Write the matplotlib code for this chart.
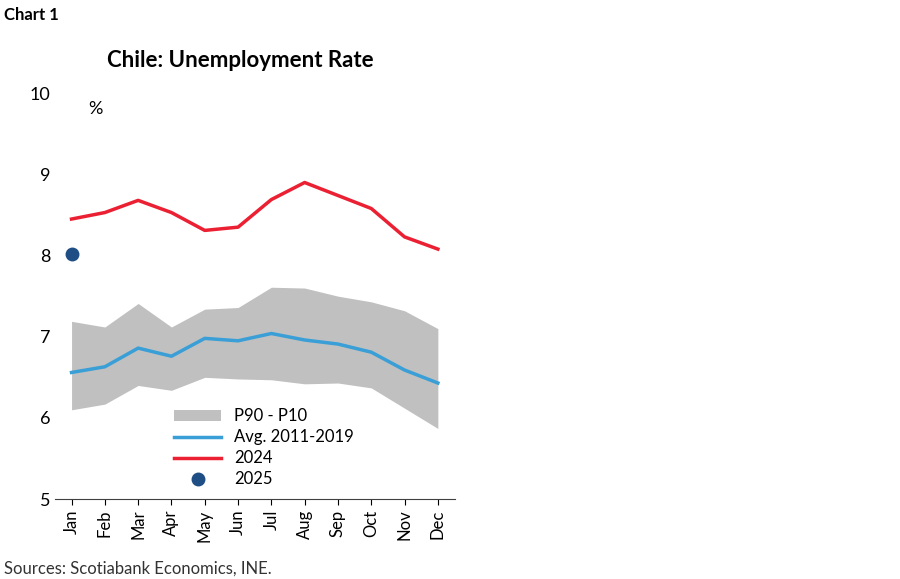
import matplotlib.pyplot as plt

months = ['Jan', 'Feb', 'Mar', 'Apr', 'May', 'Jun', 'Jul', 'Aug', 'Sep', 'Oct', 'Nov', 'Dec']
p90 = [7.19, 7.12, 7.41, 7.12, 7.34, 7.36, 7.61, 7.60, 7.50, 7.43, 7.32, 7.10]
p10 = [6.10, 6.17, 6.40, 6.34, 6.50, 6.48, 6.47, 6.42, 6.43, 6.37, 6.12, 5.87]
avg_2011_2019 = [6.56, 6.63, 6.86, 6.76, 6.98, 6.95, 7.04, 6.96, 6.91, 6.81, 6.59, 6.43]
rate_2024 = [8.45, 8.53, 8.68, 8.53, 8.31, 8.35, 8.69, 8.90, 8.74, 8.58, 8.23, 8.08]
rate_2025 = [8.02]

plt.rcParams['font.family'] = ['Lato', 'DejaVu Sans']

fig = plt.figure(figsize=(9, 5.79), dpi=100)
ax = fig.add_axes([0.061, 0.138, 0.444, 0.701])

x = list(range(len(months)))
ax.fill_between(x, p10, p90, color='#c0c0c0', linewidth=0, label='P90 - P10')
ax.plot(x, avg_2011_2019, color='#3a9fd6', linewidth=2.5, label='Avg. 2011-2019')
ax.plot(x, rate_2024, color='#ec2033', linewidth=2.5, label='2024')
ax.plot(x[:len(rate_2025)], rate_2025, 'o', color='#1f4e85', markersize=9, linestyle='None', label='2025')

ax.set_xlim(-0.5, 11.5)
ax.set_ylim(5, 10)
ax.set_xticks(x)
ax.set_xticklabels(months, rotation=90, fontsize=12)
ax.set_yticks([5, 6, 7, 8, 9, 10])
ax.tick_params(axis='y', labelsize=13, length=0)
ax.tick_params(axis='x', direction='out', length=4)
for s in ['top', 'right']:
    ax.spines[s].set_visible(False)
ax.spines['left'].set_visible(False)
ax.spines['bottom'].set_color('#404040')

ax.text(0.5, 9.75, '%', fontsize=13)
ax.legend(loc='lower left', bbox_to_anchor=(0.27, 0.0), frameon=False, fontsize=12,
          handlelength=2.8, borderpad=0.2, labelspacing=0.3)

fig.text(0.267, 0.885, 'Chile: Unemployment Rate', ha='center', fontsize=16, fontweight='bold')
fig.text(0.005, 0.965, 'Chart 1', fontsize=12, fontweight='bold')
fig.text(0.005, 0.01, 'Sources: Scotiabank Economics, INE.', fontsize=12, color='#333333')

fig.savefig('out.png', dpi=100)
